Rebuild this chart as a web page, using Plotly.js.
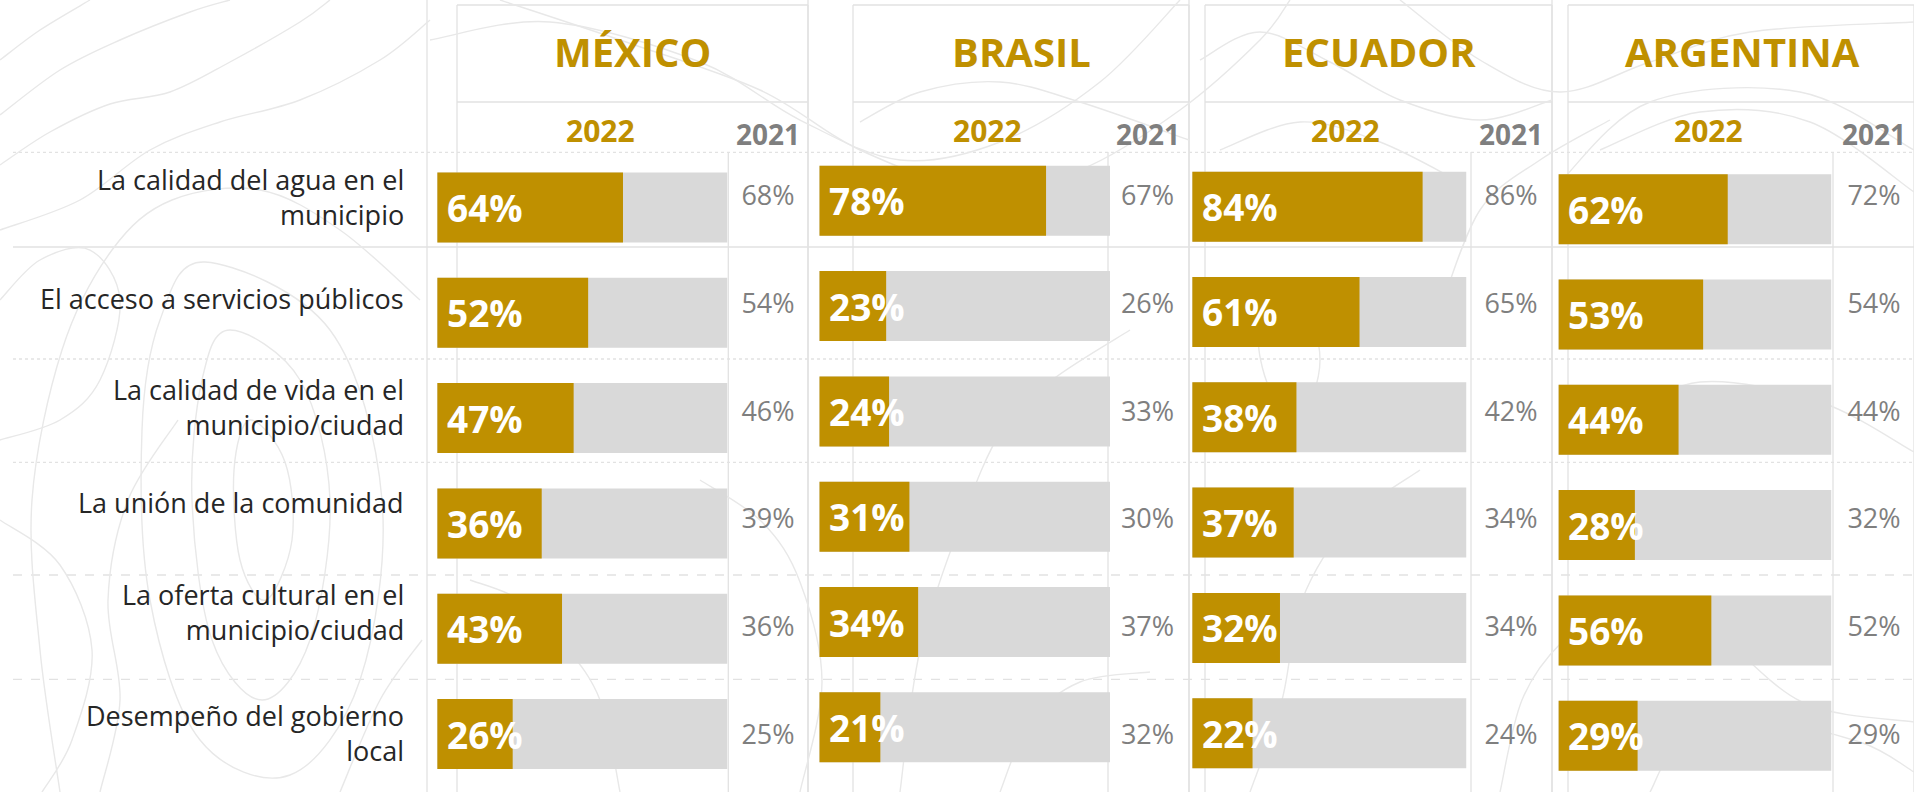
<!DOCTYPE html>
<html>
<head>
<meta charset="utf-8">
<script src="https://cdn.plot.ly/plotly-3.0.1.min.js"></script>
<style>
  html, body { margin: 0; padding: 0; background: #ffffff; }
  #chart { width: 1914px; height: 792px; }
</style>
</head>
<body>
<div id="chart"></div>
<script>
// ---------------- DATA ----------------
const countries = ['MÉXICO', 'BRASIL', 'ECUADOR', 'ARGENTINA'];
const categories = [
  'La calidad del agua en el<br>municipio',
  'El acceso a servicios públicos',
  'La calidad de vida en el<br>municipio/ciudad',
  'La unión de la comunidad',
  'La oferta cultural en el<br>municipio/ciudad',
  'Desempeño del gobierno<br>local'
];
const yearLabels = ['2022', '2021'];
const mexico2022 = [64, 52, 47, 36, 43, 26];
const mexico2021 = [68, 54, 46, 39, 36, 25];
const brasil2022 = [78, 23, 24, 31, 34, 21];
const brasil2021 = [67, 26, 33, 30, 37, 32];
const ecuador2022 = [84, 61, 38, 37, 32, 22];
const ecuador2021 = [86, 65, 42, 34, 34, 24];
const argentina2022 = [62, 53, 44, 28, 56, 29];
const argentina2021 = [72, 54, 44, 32, 52, 29];
const scaleMax = 100;

const series2022 = [mexico2022, brasil2022, ecuador2022, argentina2022];
const series2021 = [mexico2021, brasil2021, ecuador2021, argentina2021];

// ---------------- LAYOUT GEOMETRY (pixels) ----------------
const W = 1914, H = 792;
const FONT = 'Open Sans, Noto Sans, sans-serif';
const GOLD = '#BF9000', BAR_BG = '#D9D9D9', GREY_TXT = '#7F7F7F', DARK_TXT = '#262626';
const GRID = '#E2E2E2', CONTOUR = '#E8E8E8';

const panelGeom = [
  {barX: [437.2, 727.5], row1: 207.5, col2021: 768,    headX: 632.5, head2022X: 600,   box: [427, 457, 728.3, 808]},
  {barX: [819.3, 1110.0], row1: 200.8, col2021: 1147.5, headX: 1021,  head2022X: 987.5, box: [808, 853, 1108, 1189]},
  {barX: [1192.2, 1466.5], row1: 206.7, col2021: 1511,  headX: 1379,  head2022X: 1345,  box: [1189, 1205, 1471, 1552]},
  {barX: [1558.4, 1831.5], row1: 209.2, col2021: 1874,  headX: 1742,  head2022X: 1708,  box: [1552, 1568, 1833, 1914]}
];
const ROW_PITCH = 105.3, BAR_PX = 70;
const TABLE_ROW0 = 198.35, TABLE_PITCH = 107.76;
const labelRowPx = [197, 298, 407, 502.7, 612, 733];
const LABEL_RIGHT = 406, LABEL_SIZE = 27;
const rowRulesPx = [152.3, 247, 359, 462.3, 575, 679.3];
const rowRuleDash = ['dot', 'solid', 'dot', 'dot', 'dash', 'dash'];

const px = x => x / W;
const py = y => 1 - y / H;

// ---------------- TRACES & AXES ----------------
const traces = [];
const layout = {
  width: W, height: H,
  margin: {l: 0, r: 0, t: 0, b: 0, pad: 0},
  paper_bgcolor: '#ffffff',
  plot_bgcolor: 'rgba(0,0,0,0)',
  barmode: 'overlay',
  showlegend: false,
  font: {family: FONT},
  annotations: [],
  shapes: []
};

panelGeom.forEach((g, i) => {
  const ax = i === 0 ? '' : String(i + 1);
  const top = g.row1 - ROW_PITCH / 2;
  const bottom = g.row1 + 5.5 * ROW_PITCH;
  layout['xaxis' + ax] = {
    domain: [px(g.barX[0]), px(g.barX[1])], range: [0, scaleMax],
    visible: false, fixedrange: true, anchor: 'y' + ax
  };
  layout['yaxis' + ax] = {
    domain: [py(bottom), py(top)], type: 'category', range: [5.5, -0.5],
    visible: false, fixedrange: true, anchor: 'x' + ax
  };
  const w = BAR_PX / ROW_PITCH;
  traces.push({
    type: 'bar', orientation: 'h', name: 'base',
    x: categories.map(() => scaleMax), y: categories,
    xaxis: 'x' + ax, yaxis: 'y' + ax, width: w,
    marker: {color: BAR_BG, line: {width: 0}}, hoverinfo: 'skip'
  });
  traces.push({
    type: 'bar', orientation: 'h', name: countries[i] + ' ' + yearLabels[0],
    x: series2022[i], y: categories,
    xaxis: 'x' + ax, yaxis: 'y' + ax, width: w,
    marker: {color: GOLD, line: {width: 0}}, hoverinfo: 'skip'
  });
  // 2021 column values (table column sharing one row scale)
  traces.push({
    type: 'scatter', mode: 'text', name: countries[i] + ' ' + yearLabels[1],
    x: categories.map(() => g.col2021), y: categories,
    xaxis: 'x5', yaxis: 'y5',
    text: series2021[i].map(v => v + '%'),
    textposition: 'middle center', cliponaxis: false,
    textfont: {family: FONT, size: 27, color: GREY_TXT}, hoverinfo: 'skip'
  });
  // 2022 value labels inside bars
  series2022[i].forEach((v, k) => {
    layout.annotations.push({
      xref: 'x' + ax, yref: 'y' + ax, x: 0, y: k,
      xanchor: 'left', yanchor: 'middle', xshift: 8,
      text: '<b>' + v + '%</b>', showarrow: false,
      font: {family: FONT, size: 37, color: '#ffffff'}
    });
  });
  // headers
  layout.annotations.push({
    xref: 'paper', yref: 'paper', x: px(g.headX), y: py(51),
    xanchor: 'center', yanchor: 'middle', showarrow: false,
    text: '<b>' + countries[i] + '</b>', font: {family: FONT, size: 40, color: GOLD}
  });
  layout.annotations.push({
    xref: 'paper', yref: 'paper', x: px(g.head2022X), y: py(130),
    xanchor: 'center', yanchor: 'middle', showarrow: false,
    text: '<b>' + yearLabels[0] + '</b>', font: {family: FONT, size: 30, color: GOLD}
  });
  layout.annotations.push({
    xref: 'paper', yref: 'paper', x: px(g.col2021), y: py(134.5),
    xanchor: 'center', yanchor: 'middle', showarrow: false,
    text: '<b>' + yearLabels[1] + '</b>', font: {family: FONT, size: 28, color: GREY_TXT}
  });
  // table frame lines
  const [oL, iL, bE, r] = g.box;
  const line = (x0, y0, x1, y1, dash) => layout.shapes.push({
    type: 'line', xref: 'paper', yref: 'paper', layer: 'below',
    x0: px(x0), y0: py(y0), x1: px(x1), y1: py(y1),
    line: {color: GRID, width: 1.3, dash: dash || 'solid'}
  });
  line(oL, 0, oL, H);
  line(iL, 5, iL, H);
  line(bE, 152, bE, H);
  line(r, 5, r, H);
  line(iL, 5, r, 5);
  line(iL, 102, r, 102);
});

layout.xaxis5 = {domain: [0, 1], range: [0, W], visible: false, fixedrange: true, anchor: 'y5'};
layout.yaxis5 = {
  domain: [0, 1], type: 'category',
  range: [(H - TABLE_ROW0) / TABLE_PITCH, -TABLE_ROW0 / TABLE_PITCH],
  visible: false, fixedrange: true, anchor: 'x5'
};

// row rules across the table
rowRulesPx.forEach((y, k) => {
  layout.shapes.push({
    type: 'line', xref: 'paper', yref: 'paper', layer: 'below',
    x0: px(13), x1: 1, y0: py(y), y1: py(y),
    line: {color: GRID, width: 1.3, dash: rowRuleDash[k]}
  });
});

// category labels (right aligned)
categories.forEach((c, i) => {
  layout.annotations.push({
    xref: 'paper', yref: 'paper', x: px(LABEL_RIGHT), y: py(labelRowPx[i]),
    xanchor: 'right', yanchor: 'middle', align: 'right', showarrow: false,
    text: c, font: {family: FONT, size: LABEL_SIZE, color: DARK_TXT}
  });
});

// ---------------- decorative topographic background ----------------
function smoothPath(pts, closed) {
  const n = pts.length;
  const P = k => closed ? pts[(k + n) % n] : pts[Math.max(0, Math.min(n - 1, k))];
  const f = p => px(p[0]).toFixed(5) + ',' + py(p[1]).toFixed(5);
  let d = 'M' + f(pts[0]);
  const segs = closed ? n : n - 1;
  for (let i = 0; i < segs; i++) {
    const p0 = P(i - 1), p1 = P(i), p2 = P(i + 1), p3 = P(i + 2);
    const c1 = [p1[0] + (p2[0] - p0[0]) / 6, p1[1] + (p2[1] - p0[1]) / 6];
    const c2 = [p2[0] - (p3[0] - p1[0]) / 6, p2[1] - (p3[1] - p1[1]) / 6];
    d += ' C' + f(c1) + ' ' + f(c2) + ' ' + f(p2);
  }
  return d + (closed ? ' Z' : '');
}
const contours = [
  [[[0, 60], [40, 30], [90, 0]], false],
  [[[0, 115], [60, 70], [120, 40], [190, 12], [230, 0]], false],
  [[[0, 165], [50, 132], [110, 104], [170, 92], [230, 62], [300, 22], [330, 0]], false],
  [[[0, 230], [80, 200], [150, 150], [220, 122], [300, 100], [380, 60], [430, 20]], false],
  [[[230, 330], [300, 380], [330, 500], [310, 640], [262, 700], [212, 640], [192, 500], [202, 380]], true],
  [[[250, 420], [285, 462], [292, 540], [266, 600], [240, 560], [234, 470]], true],
  [[[205, 262], [330, 330], [382, 500], [360, 680], [290, 775], [200, 740], [150, 600], [142, 430], [160, 320]], true],
  [[[60, 792], [40, 650], [32, 500], [62, 350], [112, 250], [172, 200], [260, 190], [340, 230], [420, 300]], false],
  [[[100, 792], [120, 700], [108, 600], [128, 500], [178, 420]], false],
  [[[340, 792], [380, 700], [422, 640]], false],
  [[[0, 520], [60, 565], [92, 650], [72, 740], [42, 792]], false],
  [[[0, 300], [40, 260], [90, 250], [120, 300], [100, 380], [60, 420], [0, 440]], false],
  [[[430, 40], [550, 22], [700, 62], [800, 120], [900, 160], [1000, 142], [1100, 82], [1180, 0]], false],
  [[[500, 0], [620, 40], [760, 90], [860, 150], [980, 190], [1080, 170], [1180, 110], [1260, 40], [1290, 0]], false],
  [[[860, 122], [920, 92], [1000, 82], [1080, 102], [1189, 140]], false],
  [[[1200, 60], [1260, 32], [1330, 62], [1400, 100], [1480, 120], [1552, 100]], false],
  [[[1220, 150], [1300, 122], [1380, 142], [1460, 182]], false],
  [[[1400, 0], [1480, 60], [1560, 92], [1650, 62], [1750, 32], [1914, 22]], false],
  [[[1560, 182], [1650, 102], [1800, 92], [1914, 150]], false],
  [[[1600, 150], [1700, 112], [1810, 122], [1914, 192]], false],
  [[[1440, 310], [1480, 210], [1540, 160], [1610, 120]], false],
  [[[900, 792], [920, 650], [962, 520], [1002, 430], [1052, 380], [1130, 330]], false],
  [[[1000, 792], [1030, 722], [1080, 682], [1150, 672]], false],
  [[[1250, 792], [1282, 700], [1302, 600], [1352, 520], [1420, 470]], false],
  [[[1500, 792], [1522, 700], [1562, 642], [1622, 602], [1702, 622], [1802, 702], [1914, 722]], false],
  [[[1650, 792], [1682, 742], [1760, 722], [1860, 742], [1914, 772]], false],
  [[[1620, 420], [1700, 382], [1820, 402], [1914, 452]], false],
  [[[620, 792], [600, 700], [562, 642], [520, 600], [470, 580]], false],
  [[[700, 480], [762, 522], [800, 582], [822, 682], [800, 792]], false],
  [[[1260, 330], [1300, 300], [1320, 360], [1300, 420], [1270, 390]], true]
];
contours.forEach(([pts, closed]) => {
  layout.shapes.push({
    type: 'path', xref: 'paper', yref: 'paper', layer: 'below',
    path: smoothPath(pts, closed),
    line: {color: CONTOUR, width: 1.4}
  });
});

Plotly.newPlot('chart', traces, layout, {displayModeBar: false, responsive: false});
</script>
</body>
</html>
